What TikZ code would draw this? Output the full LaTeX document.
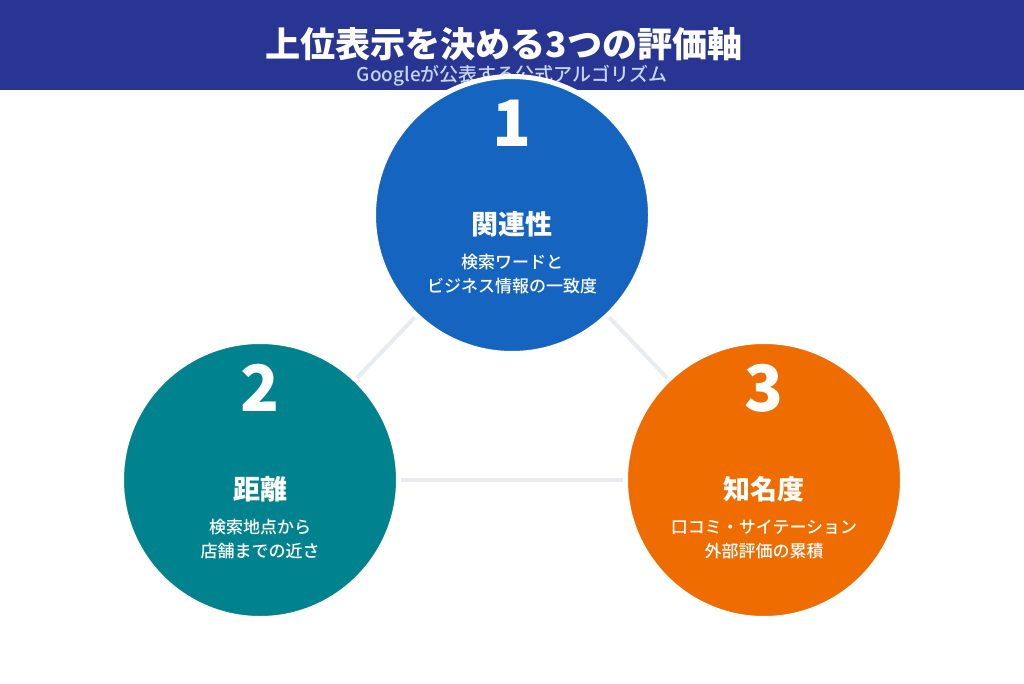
\documentclass[tikz,border=0pt]{standalone}
\usepackage{fontspec}
\setmainfont{Noto Sans CJK JP}
\newfontfamily\heavyjp{Noto Sans CJK JP Black}
\newfontfamily\mediumjp{Noto Sans CJK JP Medium}
\usepackage{tikz}
\definecolor{headblue}{HTML}{283593}
\definecolor{subblue}{HTML}{C5D5F5}
\definecolor{relblue}{HTML}{1565C0}
\definecolor{distteal}{HTML}{00838F}
\definecolor{fameorange}{HTML}{EF6C00}
\definecolor{linkgray}{HTML}{E8ECF0}
\tikzset{
    factor/.style={circle, draw=white, line width=5pt, minimum size=277pt, inner sep=0pt},
    factor num/.style={text=white, inner sep=0pt, font=\fontsize{64}{64}\heavyjp},
    factor title/.style={text=white, inner sep=0pt, font=\fontsize{27}{27}\selectfont\bfseries},
    factor text/.style={text=white, inner sep=0pt, align=center, font=\fontsize{17}{24}\mediumjp},
    link/.style={linkgray, line width=4pt},
}

\begin{document}
\begin{tikzpicture}[x=1pt,y=1pt]
\useasboundingbox (0,0) rectangle (1024,683);
\fill[headblue] (0,593) rectangle (1024,683);
\node[text=white, inner sep=0pt, font=\fontsize{35.1}{36}\heavyjp] (title) at (504,639) {上位表示を決める3つの評価軸};
\node[text=subblue, inner sep=0pt, font=\fontsize{19}{19}\mediumjp] (subtitle) at (512,607) {Googleが公表する公式アルゴリズム};
\foreach \i/\cx/\cy/\col/\name/\la/\lb in {
1/512/468/relblue/関連性/検索ワードと/ビジネス情報の一致度,
2/260/203/distteal/距離/検索地点から/店舗までの近さ,
3/764/203/fameorange/知名度/口コミ・サイテーション/外部評価の累積} {
\node[factor, fill=\col] (c\i) at (\cx,\cy) {};
\node[factor num] (n\i) at (\cx,\cy+92) {\i};
\node[factor title] (t\i) at (\cx,\cy-9) {\name};
\node[factor text] (d\i) at (\cx,\cy-59) {\la\\\lb};
}
\draw[link] (c1) -- (c2);
\draw[link] (c1) -- (c3);
\draw[link] (c2) -- (c3);
\end{tikzpicture}
\end{document}
